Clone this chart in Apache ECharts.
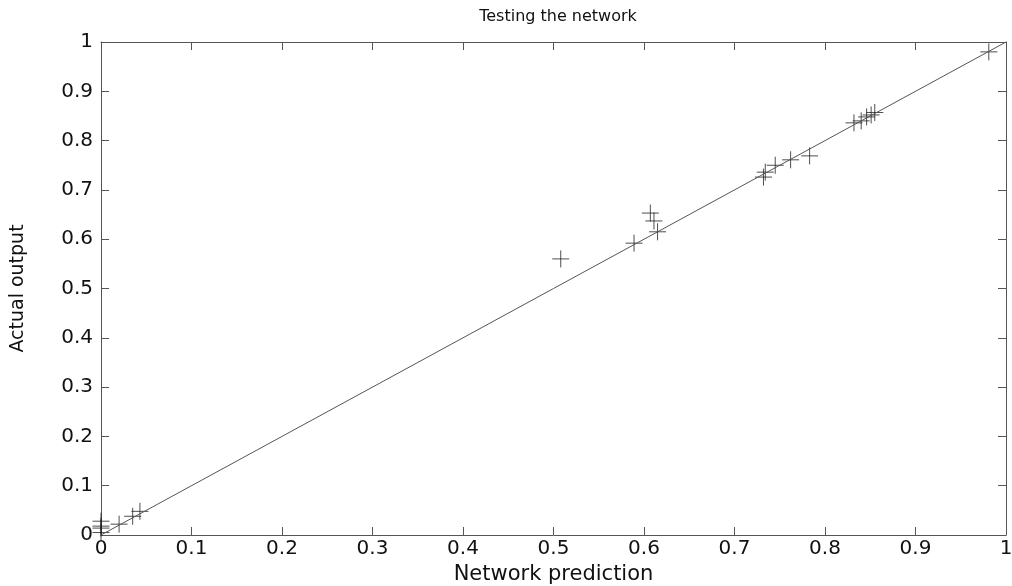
<!DOCTYPE html>
<html>
<head>
<meta charset="utf-8">
<script src="https://cdn.jsdelivr.net/npm/echarts@6/dist/echarts.min.js"></script>
<style>
  html, body { margin: 0; padding: 0; background: #fff; }
  #chart { width: 1012px; height: 586px; }
</style>
</head>
<body>
<div id="chart"></div>
<script>
// network prediction (x) vs actual output (y)
const predicted = [0.0, 0.0, 0.0, 0.0, 0.02, 0.035, 0.043, 0.508, 0.589, 0.607, 0.611, 0.615,
    0.732, 0.734, 0.745, 0.762, 0.783, 0.832, 0.840, 0.846, 0.851, 0.855, 0.981];
const actual = [0.028, 0.018, 0.014, 0.005, 0.022, 0.038, 0.048, 0.560, 0.592, 0.653, 0.637, 0.615,
    0.726, 0.736, 0.750, 0.761, 0.769, 0.836, 0.840, 0.848, 0.852, 0.857, 0.980];

// reference line y = x
const lineX = [0, 1];
const lineY = [0, 1];

const xTicks = [0, 0.1, 0.2, 0.3, 0.4, 0.5, 0.6, 0.7, 0.8, 0.9, 1];
const yTicks = [0, 0.1, 0.2, 0.3, 0.4, 0.5, 0.6, 0.7, 0.8, 0.9, 1];

const font = "'DejaVu Sans', Arial, sans-serif";
const axisColor = "#555";

const chart = echarts.init(document.getElementById("chart"), null, { renderer: "canvas" });

const fmt = (v) => {
    const r = Math.round(v * 10) / 10;
    return r === 0 ? "0" : r === 1 ? "1" : r.toFixed(1);
};

const baseAxis = {
    type: "value",
    min: 0,
    max: 1,
    interval: 0.1,
    axisLine: { show: true, onZero: false, lineStyle: { color: axisColor, width: 1 } },
    axisTick: { show: true, inside: true, length: 8, lineStyle: { color: axisColor } },
    splitLine: { show: false },
};

chart.setOption({
    animation: false,
    textStyle: { fontFamily: font },
    title: {
        text: "Testing the network",
        left: 553,
        top: 4,
        textAlign: "center",
        textStyle: { fontFamily: font, fontSize: 16, fontWeight: "normal", color: "#111" },
    },
    grid: { left: 101, right: 6, top: 42, bottom: 51, containLabel: false, outerBoundsMode: "none" },
    xAxis: [
        {
            ...baseAxis,
            position: "bottom",
            name: "Network prediction",
            nameLocation: "middle",
            nameGap: 26,
            nameTextStyle: { fontFamily: font, fontSize: 21, color: "#111" },
            axisLabel: {
                color: "#111", fontSize: 20, fontFamily: font, margin: 4,
                formatter: (v) => xTicks.includes(Math.round(v * 10) / 10) ? fmt(v) : "",
            },
        },
        { ...baseAxis, position: "top", axisLabel: { show: false } },
    ],
    yAxis: [
        {
            ...baseAxis,
            position: "left",
            name: "Actual output",
            nameLocation: "middle",
            nameGap: 73,
            nameTextStyle: { fontFamily: font, fontSize: 19, color: "#111" },
            axisLabel: {
                color: "#111", fontSize: 20, fontFamily: font, margin: 8,
                formatter: (v) => yTicks.includes(Math.round(v * 10) / 10) ? fmt(v) : "",
            },
        },
        { ...baseAxis, position: "right", axisLabel: { show: false } },
    ],
    series: [
        {
            type: "line",
            data: lineX.map((x, i) => [x, lineY[i]]),
            symbol: "none",
            lineStyle: { color: "#555", width: 1 },
            silent: true,
        },
        {
            type: "scatter",
            data: predicted.map((x, i) => [x, actual[i]]),
            symbol: "path://M0,-1L0,1M-1,0L1,0",
            symbolSize: 17,
            itemStyle: { color: "none", borderColor: "#222", borderWidth: 1 },
        },
    ],
});
</script>
</body>
</html>
